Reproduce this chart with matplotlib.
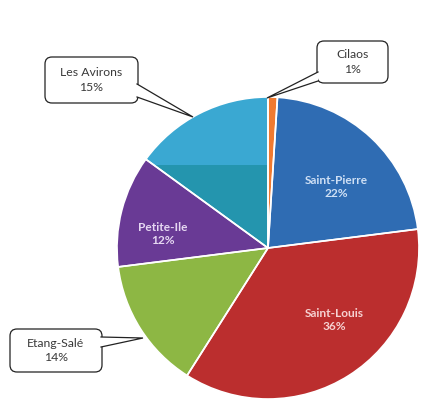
import numpy as np
import matplotlib.pyplot as plt
from matplotlib.patches import FancyBboxPatch, Polygon, Rectangle

# data (clockwise from the top)
communes = ["Cilaos", "Saint-Pierre", "Saint-Louis", "Etang-Salé", "Petite-Ile", "Les Avirons"]
parts = [1, 22, 36, 14, 12, 15]
colors = ["#F07A30", "#2F6CB3", "#BB2E2E", "#8DB744", "#693A95", "#3AA8D2"]
label_colors = ["#000000", "#CFE0F5", "#F6D2D2", "#000000", "#E6D8F2", "#000000"]

W, H = 422, 403
fig = plt.figure(figsize=(W / 100, H / 100), dpi=100)
ax = fig.add_axes([0, 0, 1, 1])

cx, cy, r = 268, H - 248, 151
wedges, _ = ax.pie(parts, colors=colors, startangle=90, counterclock=False,
                   center=(cx, cy), radius=r,
                   wedgeprops=dict(edgecolor="none"))

# darker band in the lower part of the Les Avirons slice (as in the scan)
band = Rectangle((0, 0), W, H - 165, fc="#2495AE", ec="none", zorder=wedges[5].get_zorder())
ax.add_patch(band)
band.set_clip_path(wedges[5])

# white separators on top
ax.pie(parts, colors=["none"] * len(parts), startangle=90, counterclock=False,
       center=(cx, cy), radius=r,
       wedgeprops=dict(edgecolor="white", linewidth=1.2, fill=False))
ax.set_xlim(0, W)
ax.set_ylim(0, H)
ax.set_aspect("equal")
ax.axis("off")

fnt = "Lato"

# labels inside the slices
inside = {1: (336, 187), 2: (334, 320), 4: (163, 234)}
for i, (x, y) in inside.items():
    ax.text(x, H - y, f"{communes[i]}\n{parts[i]}%", ha="center", va="center",
            fontsize=8.6, fontweight="bold", color=label_colors[i], family=fnt,
            linespacing=1.3, zorder=4)


def callout(i, box, base, tip):
    x0, y0, x1, y1 = box
    b = FancyBboxPatch((x0, H - y1), x1 - x0, y1 - y0,
                       boxstyle="round,pad=0,rounding_size=7",
                       fc="white", ec="#222222", lw=0.9, zorder=5)
    ax.add_patch(b)
    (ax1, ay1), (ax2, ay2) = base
    tx, ty = tip
    poly = Polygon([(ax1, H - ay1), (tx, H - ty), (ax2, H - ay2)], closed=True,
                   fc="white", ec="none", zorder=6)
    ax.add_patch(poly)
    ax.plot([ax1, tx, ax2], [H - ay1, H - ty, H - ay2], color="#222222", lw=0.9,
            zorder=7, solid_joinstyle="miter")
    ax.text((x0 + x1) / 2, H - (y0 + y1) / 2, f"{communes[i]}\n{parts[i]}%",
            ha="center", va="center", fontsize=8.8, color="#3A3A3A",
            family=fnt, linespacing=1.35, zorder=8)


callout(5, (45, 57, 138, 103), ((137, 84), (137, 97)), (193, 117))
callout(0, (317, 41, 388, 83), ((318, 72), (318, 81)), (267, 98))
callout(3, (10, 329, 102, 372), ((101, 337), (101, 347)), (143, 338))

fig.savefig("out.png", dpi=100)
